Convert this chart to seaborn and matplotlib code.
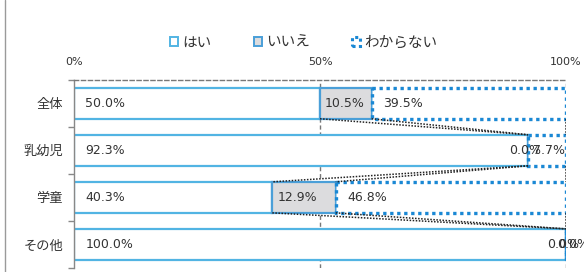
import numpy as np
import pandas as pd
import seaborn as sns
import matplotlib.pyplot as plt
from matplotlib.patches import Patch
from matplotlib.lines import Line2D

# データ
categories = ["全体", "乳幼児", "学童", "その他"]
hai = [50.0, 92.3, 40.3, 100.0]
iie = [10.5, 0.0, 12.9, 0.0]
wakaranai = [39.5, 7.7, 46.8, 0.0]
series_names = ["はい", "いいえ", "わからない"]
tick_values = [0, 50, 100]
tick_labels = ["0%", "50%", "100%"]

sns.set_theme(style="white")
plt.rcParams['font.family'] = ['Noto Sans CJK JP', 'DejaVu Sans']

blue = "#52b4e3"
blue2 = "#4a9fd8"
dot_blue = "#1a88d4"
gray_fill = "#dcdcde"
text_col = "#333333"

df = pd.DataFrame({"cat": categories, "はい": hai, "いいえ": iie, "わからない": wakaranai})
df["start_はい"] = 0.0
df["start_いいえ"] = df["はい"]
df["start_わからない"] = df["はい"] + df["いいえ"]

fig = plt.figure(figsize=(5.84, 2.72), dpi=100)
ax = fig.add_axes([0.127, 0.015, 0.842, 0.692])
bh = 0.66

styles = {
    "はい": dict(color="white", edgecolor=blue, linewidth=1.6),
    "いいえ": dict(color=gray_fill, edgecolor=blue2, linewidth=1.6),
    "わからない": dict(color="white", edgecolor=dot_blue, linewidth=2.4, linestyle=(0, (1, 1.1))),
}

for name in series_names:
    sns.barplot(data=df, y="cat", x=name, left=df["start_" + name].values,
                width=bh, saturation=1, errorbar=None, orient="y", ax=ax,
                zorder=2, **styles[name])

# 系列線
cum = [df["はい"].values, (df["はい"] + df["いいえ"]).values,
       (df["はい"] + df["いいえ"] + df["わからない"]).values]
for v in cum:
    for k in range(len(v) - 1):
        ax.plot([v[k], v[k + 1]], [k + bh / 2, k + 1 - bh / 2], color="#222222",
                lw=1.1, ls=(0, (1, 1)), zorder=3)

# 目盛線
for xv in [50, 100]:
    ax.axvline(xv, color="#777777", lw=1, ls=(0, (3, 2)), zorder=0.5)

# データラベル
for i, name in enumerate(series_names):
    for k in range(len(categories)):
        w = df[name].iloc[k]
        x0 = df["start_" + name].iloc[k]
        label = f"{w:.1f}%"
        if w == 0:
            ax.text(x0 + 2 * (i - 1) - 0.5, k, label, ha="center", va="center", fontsize=9,
                    color=text_col, family="DejaVu Sans", zorder=4, clip_on=False)
        else:
            pad = 2.3 if w > 15 else 1.0
            ax.text(x0 + pad, k, label, ha="left", va="center", fontsize=9,
                    color=text_col, family="DejaVu Sans", zorder=4, clip_on=False)

ax.set_xlim(0, 100)
ax.set_ylim(3.5, -0.5)
ax.set_xlabel("")
ax.set_ylabel("")
ax.xaxis.tick_top()
ax.set_xticks(tick_values)
ax.set_xticklabels(tick_labels, fontsize=8, color=text_col, family="DejaVu Sans")
ax.tick_params(axis="x", length=0, pad=9)
ax.set_yticks(range(len(categories)))
ax.set_yticklabels(categories, fontsize=9.5, color=text_col)
ax.tick_params(axis="y", which="major", length=0, pad=8)
ax.set_yticks(np.arange(-0.5, len(categories), 1), minor=True)
ax.tick_params(axis="y", which="minor", length=4, direction="out", color="#888888", width=1, left=True)

for s in ["right", "bottom"]:
    ax.spines[s].set_visible(False)
ax.spines["left"].set_color("#888888")
ax.spines["left"].set_linewidth(1)
ax.spines["top"].set_color("#777777")
ax.spines["top"].set_linewidth(1)
ax.spines["top"].set_linestyle((0, (3, 2)))

handles = [
    Patch(facecolor="white", edgecolor=blue, linewidth=1.4, label="はい"),
    Patch(facecolor=gray_fill, edgecolor=blue2, linewidth=1.4, label="いいえ"),
    Patch(facecolor="white", edgecolor=dot_blue, linewidth=2.2, linestyle=(0, (1, 1.1)), label="わからない"),
]
fig.legend(handles=handles, loc="center", bbox_to_anchor=(0.52, 0.842), ncol=3,
           frameon=False, fontsize=10.5, handlelength=0.55, handleheight=0.55,
           handletextpad=0.3, columnspacing=2.9, labelcolor=text_col)

fig.add_artist(Line2D([0.009, 0.009], [0, 1], color="#9a9a9a", lw=1))

fig.savefig("out.png", dpi=100, facecolor="white")
